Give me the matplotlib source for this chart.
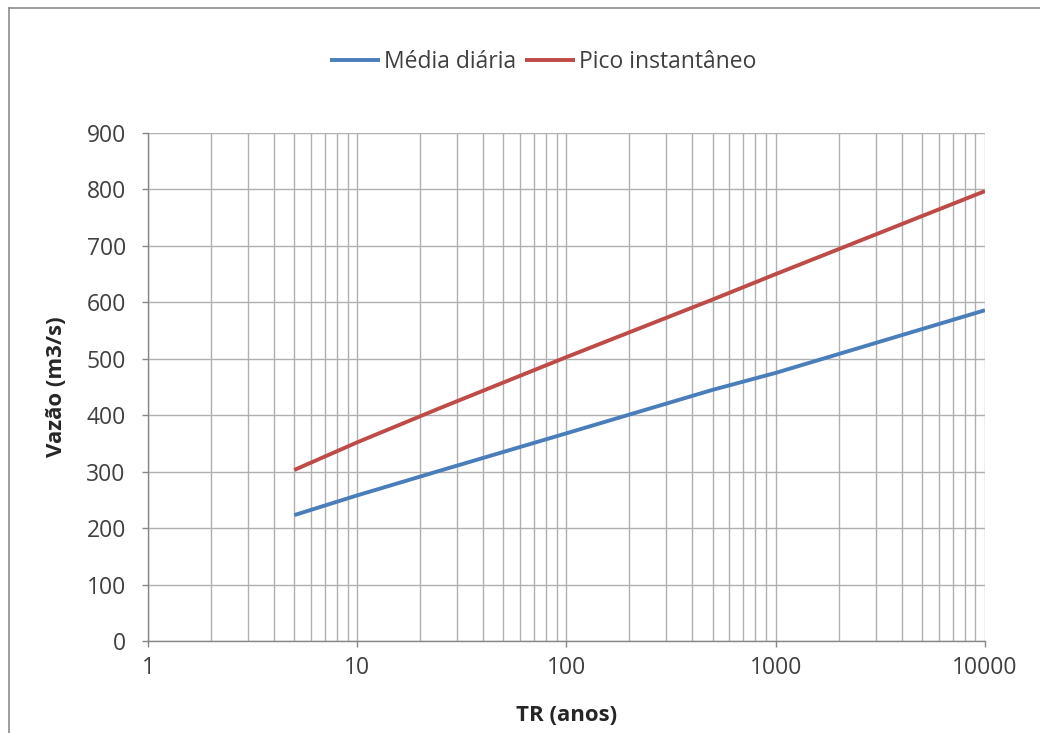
import matplotlib.pyplot as plt
from matplotlib.lines import Line2D
from matplotlib.ticker import FixedLocator, LogLocator, NullFormatter

plt.rcParams['font.family'] = ['Open Sans', 'DejaVu Sans']

# tempos de retorno (anos) e vazoes
tr = [5, 10, 25, 50, 100, 500, 1000, 10000]
media_diaria = [223, 258, 302, 335, 368, 445, 475, 586]
pico_instantaneo = [303, 352, 413, 458, 503, 605, 650, 797]

x_ticks = [1, 10, 100, 1000, 10000]
y_ticks = list(range(0, 1000, 100))

fig = plt.figure(figsize=(10.4, 7.33), dpi=100)
ax = fig.add_axes([0.1423, 0.1255, 0.8048, 0.6931])

ax.plot(tr, media_diaria, color='#4A7EBB', lw=2.8, label='Média diária', solid_capstyle='butt')
ax.plot(tr, pico_instantaneo, color='#BE4B48', lw=2.8, label='Pico instantâneo', solid_capstyle='butt')

ax.set_xscale('log')
ax.set_xlim(1, 10000)
ax.set_ylim(0, 900)
ax.xaxis.set_major_locator(FixedLocator(x_ticks))
ax.set_xticklabels([str(t) for t in x_ticks])
ax.xaxis.set_minor_locator(LogLocator(base=10, subs=range(2, 10)))
ax.xaxis.set_minor_formatter(NullFormatter())
ax.set_yticks(y_ticks)

ax.grid(True, which='major', color='#b0b0b0', lw=1)
ax.grid(True, which='minor', axis='x', color='#b0b0b0', lw=1)
ax.set_axisbelow(True)

for s in ['top', 'right']:
    ax.spines[s].set_visible(False)
for s in ['left', 'bottom']:
    ax.spines[s].set_color('#868686')
    ax.spines[s].set_linewidth(1)

ax.tick_params(which='major', length=4, width=1, color='#868686', labelsize=16.5, labelcolor='#404040')
ax.tick_params(axis='y', pad=12)
ax.tick_params(axis='x', pad=7)
ax.tick_params(which='minor', length=0)

ax.set_xlabel('TR (anos)', fontsize=16, fontweight='bold', color='#262626', labelpad=18)
ax.set_ylabel('Vazão (m3/s)', fontsize=16, fontweight='bold', color='#262626', labelpad=14)

fig.legend(loc='center', bbox_to_anchor=(0.522, 0.915), ncol=2, frameon=False,
           fontsize=16.5, handlelength=2.2, handletextpad=0.15, columnspacing=0.4,
           labelcolor='#404040')

# moldura da area do grafico (so topo e esquerda aparecem)
fig.add_artist(Line2D([9 / 1040, 1.0], [1 - 8 / 733, 1 - 8 / 733], color='#8c8c8c', lw=1.2))
fig.add_artist(Line2D([9 / 1040, 9 / 1040], [0.0, 1 - 8 / 733], color='#8c8c8c', lw=1.2))

fig.savefig('out.png', dpi=100)
